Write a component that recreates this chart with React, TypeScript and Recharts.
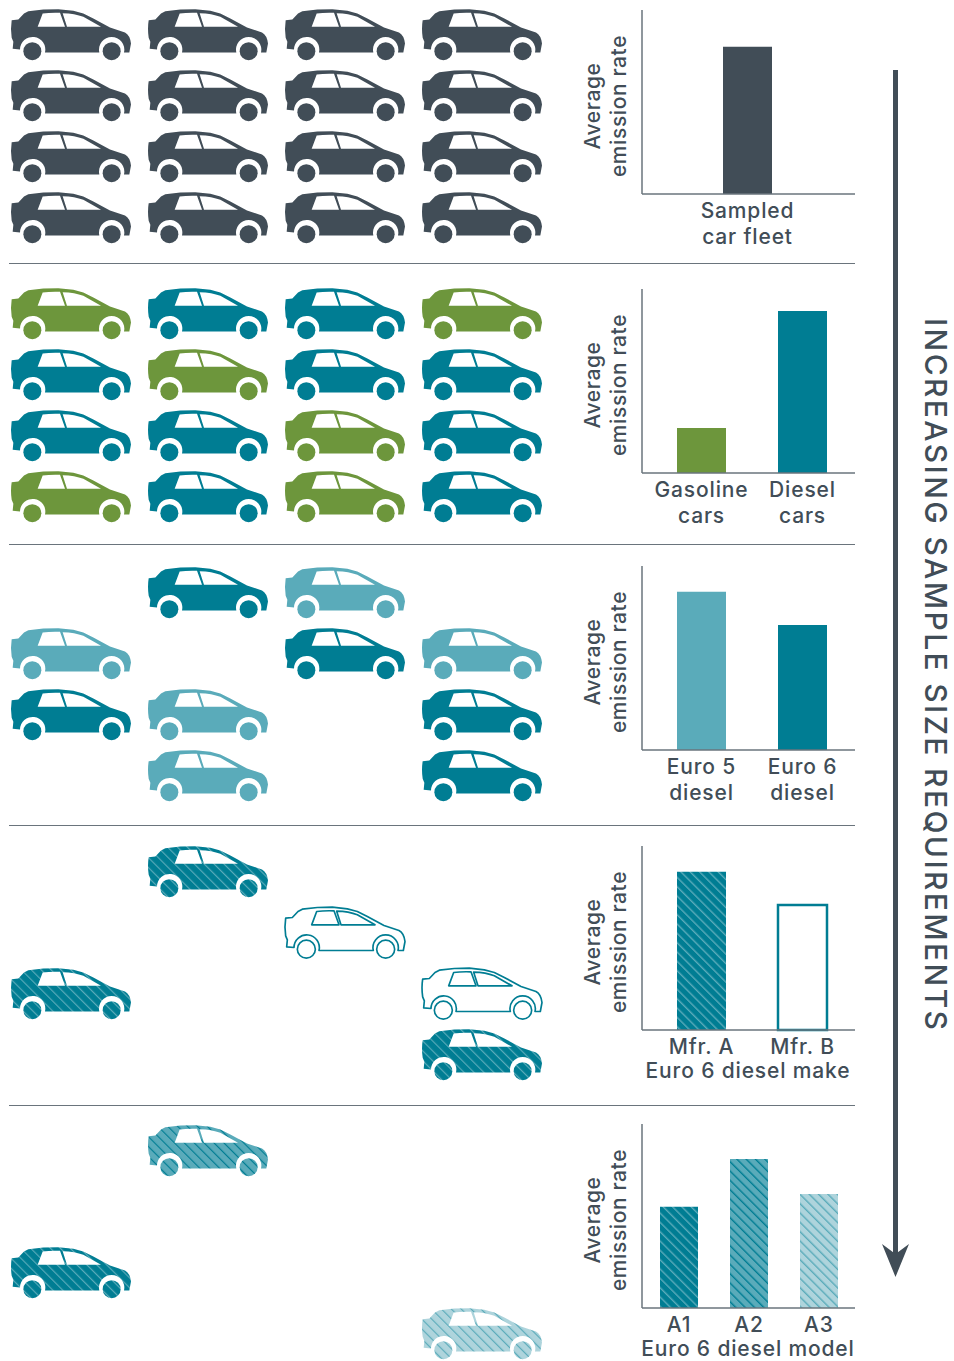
import React from "react";
import { BarChart, Bar, Cell, XAxis, YAxis, Label, ScatterChart, Scatter } from "recharts";

// ---------- data ----------
const fleetCars = [
  { col: 0, row: 0 }, { col: 1, row: 0 }, { col: 2, row: 0 }, { col: 3, row: 0 },
  { col: 0, row: 1 }, { col: 1, row: 1 }, { col: 2, row: 1 }, { col: 3, row: 1 },
  { col: 0, row: 2 }, { col: 1, row: 2 }, { col: 2, row: 2 }, { col: 3, row: 2 },
  { col: 0, row: 3 }, { col: 1, row: 3 }, { col: 2, row: 3 }, { col: 3, row: 3 },
];
const gasolineCars = [
  { col: 0, row: 0 }, { col: 3, row: 0 }, { col: 1, row: 1 }, { col: 2, row: 2 }, { col: 0, row: 3 }, { col: 2, row: 3 },
];
const dieselCars = [
  { col: 1, row: 0 }, { col: 2, row: 0 }, { col: 0, row: 1 }, { col: 2, row: 1 }, { col: 3, row: 1 },
  { col: 0, row: 2 }, { col: 1, row: 2 }, { col: 3, row: 2 }, { col: 1, row: 3 }, { col: 3, row: 3 },
];
const euro5Cars = [
  { col: 2, row: 0 }, { col: 0, row: 1 }, { col: 3, row: 1 }, { col: 1, row: 2 }, { col: 1, row: 3 },
];
const euro6Cars = [
  { col: 1, row: 0 }, { col: 2, row: 1 }, { col: 0, row: 2 }, { col: 3, row: 2 }, { col: 3, row: 3 },
];
const mfrACars = [{ col: 1, row: 0 }, { col: 0, row: 2 }, { col: 3, row: 3 }];
const mfrBCars = [{ col: 2, row: 1 }, { col: 3, row: 2 }];
const modelA1Cars = [{ col: 0, row: 2 }];
const modelA2Cars = [{ col: 1, row: 0 }];
const modelA3Cars = [{ col: 3, row: 3 }];

const fleetBars = [{ name: "Sampled\ncar fleet", value: 80 }];
const fuelBars = [{ name: "Gasoline\ncars", value: 24.5 }, { name: "Diesel\ncars", value: 88 }];
const euroBars = [{ name: "Euro 5\ndiesel", value: 86 }, { name: "Euro 6\ndiesel", value: 68 }];
const makeBars = [{ name: "Mfr. A", value: 86 }, { name: "Mfr. B", value: 68 }];
const modelBars = [{ name: "A1", value: 55 }, { name: "A2", value: 81 }, { name: "A3", value: 62 }];

// ---------- styles ----------
const INK = "#414d57";
const AXIS = "#6a747c";
const TEAL = "#007d93";
const GREEN = "#6d963c";
const LIGHT = "#5aabba";
const PALE = "#aed4dc";
const FONT = "Inter, sans-serif";
const FS = 21;
const LS = 0.6;
const LSX = 0.85;
const FW = 500;

const BODY =
  "M35 60 L55 58 L72 40 L85 33 L130 28 L175 27 L220 32 L250 40 L280 55 L330 82 L375 97 Q390 105 393 130 L388 157 L372 157 " +
  "A38 38 0 1 0 298 157 L135 157 A38 38 0 1 0 60 148 L38 146 L40 125 L35 113 Q31 85 35 60 Z " +
  "M113 80 L128 40 Q150 37 180 38 L195 80 Z M201 80 L188 39 Q225 40 250 50 L303 80 Z";

function Car({ cx, cy, fill, outline }: any) {
  return (
    <g transform={`translate(${cx},${cy}) scale(0.3333) translate(-213,-104.5)`}>
      <path
        d={BODY}
        fill={outline ? "#fff" : fill}
        fillRule="evenodd"
        stroke={outline ? TEAL : "none"}
        strokeWidth={outline ? 5 : 0}
        strokeLinejoin="round"
      />
      <circle cx={97} cy={153} r={27} fill={outline ? "#fff" : fill} stroke={outline ? TEAL : "none"} strokeWidth={outline ? 5 : 0} />
      <circle cx={335} cy={153} r={27} fill={outline ? "#fff" : fill} stroke={outline ? TEAL : "none"} strokeWidth={outline ? 5 : 0} />
    </g>
  );
}

function CarPanel({ top, series }: any) {
  return (
    <div style={{ position: "absolute", left: 0, top, width: 560, height: 235 }}>
      <ScatterChart width={560} height={235} margin={{ left: 71, right: 78, top: 26, bottom: 26 }}>
        <XAxis type="number" dataKey="col" domain={[0, 3]} hide />
        <YAxis type="number" dataKey="row" domain={[0, 3]} reversed hide />
        {series.map((s: any, i: number) => (
          <Scatter
            key={i}
            data={s.data}
            isAnimationActive={false}
            shape={(p: any) => <Car cx={p.cx} cy={p.cy} fill={s.fill} outline={s.outline} />}
          />
        ))}
      </ScatterChart>
    </div>
  );
}

function Tick({ x, y, payload }: any) {
  const lines = String(payload.value).split("\n");
  return (
    <g>
      {lines.map((t, i) => (
        <text key={i} x={x} y={y + 16 + i * 25.5} textAnchor="middle" fill={INK} fontFamily={FONT} fontSize={FS} fontWeight={FW} letterSpacing={LSX}>
          {t}
        </text>
      ))}
    </g>
  );
}

function YTitle({ cy }: any) {
  const base = { textAnchor: "middle" as const, fill: INK, fontFamily: FONT, fontSize: FS, fontWeight: FW, letterSpacing: LS };
  return (
    <g>
      <text {...base} transform={`translate(600,${cy}) rotate(-90)`}>Average</text>
      <text {...base} transform={`translate(626,${cy}) rotate(-90)`}>emission rate</text>
    </g>
  );
}

function BarPanel({ top, data, fills, strokes, barSize, padding, title }: any) {
  const xTitle = (p: any) => (
    <text x={748} y={p.viewBox.y + 48} textAnchor="middle" fill={INK} fontFamily={FONT} fontSize={FS} fontWeight={FW} letterSpacing={LSX}>
      {title}
    </text>
  );
  return (
    <div style={{ position: "absolute", left: 0, top: top - 10, width: 870, height: 260 }}>
      <BarChart width={870} height={260} data={data} margin={{ left: 641, right: 15, top: 10, bottom: 0 }}>
        <XAxis
          dataKey="name"
          type="category"
          height={66}
          padding={padding}
          interval={0}
          tick={<Tick />}
          tickLine={false}
          axisLine={{ stroke: AXIS, strokeWidth: 1.5 }}
        >
          {title ? <Label content={xTitle} /> : null}
        </XAxis>
        <YAxis
          type="number"
          domain={[0, 100]}
          width={1}
          tick={false}
          tickLine={false}
          axisLine={{ stroke: AXIS, strokeWidth: 1.5 }}
        >
          <Label content={() => <YTitle cy={106} />} />
        </YAxis>
        <Bar dataKey="value" barSize={barSize} isAnimationActive={false}>
          {data.map((_: any, i: number) => (
            <Cell
              key={i}
              fill={fills[i]}
              stroke={strokes ? strokes[i] : "none"}
              strokeWidth={strokes ? 2.5 : 0}
            />
          ))}
        </Bar>
      </BarChart>
    </div>
  );
}

function Hatch({ id, size, bg, line, w }: any) {
  return (
    <pattern id={id} patternUnits="userSpaceOnUse" width={size} height={size} patternTransform="rotate(-45)">
      <rect width={size} height={size} fill={bg} />
      <rect width={w} height={size} fill={line} />
    </pattern>
  );
}

const separators = [263, 544, 825, 1105];

export default function App() {
  return (
    <div style={{ position: "absolute", left: 0, top: 0, width: 954, height: 1361, background: "#fff", overflow: "hidden" }}>
      <svg width={0} height={0} style={{ position: "absolute" }}>
        <defs>
          <Hatch id="carA" size={21} bg={TEAL} line="#5aabba" w={3.5} />
          <Hatch id="carM" size={21} bg={LIGHT} line={TEAL} w={3.5} />
          <Hatch id="carP" size={21} bg={PALE} line={LIGHT} w={3.5} />
          <Hatch id="barA" size={6.6} bg={TEAL} line="#5aabba" w={1.4} />
          <Hatch id="barM" size={6.6} bg={LIGHT} line={TEAL} w={1.4} />
          <Hatch id="barP" size={6.6} bg={PALE} line={LIGHT} w={1.4} />
        </defs>
      </svg>

      <CarPanel top={9} series={[{ data: fleetCars, fill: INK }]} />
      <CarPanel top={288} series={[{ data: gasolineCars, fill: GREEN }, { data: dieselCars, fill: TEAL }]} />
      <CarPanel top={567} series={[{ data: euro5Cars, fill: LIGHT }, { data: euro6Cars, fill: TEAL }]} />
      <CarPanel top={846} series={[{ data: mfrACars, fill: "url(#carA)" }, { data: mfrBCars, outline: true }]} />
      <CarPanel
        top={1125}
        series={[
          { data: modelA1Cars, fill: "url(#carA)" },
          { data: modelA2Cars, fill: "url(#carM)" },
          { data: modelA3Cars, fill: "url(#carP)" },
        ]}
      />

      <BarPanel top={10} data={fleetBars} fills={[INK]} barSize={49} padding={{ left: 0, right: 2 }} />
      <BarPanel top={289} data={fuelBars} fills={[GREEN, TEAL]} barSize={49} padding={{ left: 9, right: 2 }} />
      <BarPanel top={566} data={euroBars} fills={[LIGHT, TEAL]} barSize={49} padding={{ left: 9, right: 2 }} />
      <BarPanel
        top={846}
        data={makeBars}
        fills={["url(#barA)", "#fff"]}
        strokes={["none", TEAL]}
        barSize={49}
        padding={{ left: 9, right: 2 }}
        title="Euro 6 diesel make"
      />
      <BarPanel
        top={1124}
        data={modelBars}
        fills={["url(#barA)", "url(#barM)", "url(#barP)"]}
        barSize={38}
        padding={{ left: 2, right: 1 }}
        title="Euro 6 diesel model"
      />

      {separators.map((y) => (
        <div key={y} style={{ position: "absolute", left: 9, top: y, width: 846, height: 1, background: AXIS }} />
      ))}

      <svg width={954} height={1361} style={{ position: "absolute", left: 0, top: 0, pointerEvents: "none" }}>
        <rect x={893} y={70} width={5} height={1190} fill={INK} />
        <path d="M882 1244 L895.5 1254 L909 1244 L895.5 1277 Z" fill={INK} />
        <text
          transform="translate(925,318) rotate(90)"
          fontFamily={FONT}
          fontSize={30}
          fontWeight={500}
          fill={INK}
          textLength={712}
          lengthAdjust="spacing"
        >
          INCREASING SAMPLE SIZE REQUIREMENTS
        </text>
      </svg>
    </div>
  );
}
